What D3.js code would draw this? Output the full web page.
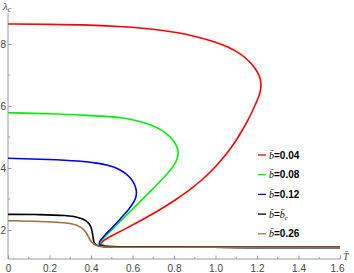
<!DOCTYPE html>
<html><head><meta charset="utf-8">
<script src="https://cdn.jsdelivr.net/npm/d3@7/dist/d3.min.js"></script>
<style>body{margin:0;background:#fff}svg{display:block}</style>
</head><body>
<svg id="chart" width="354" height="273"></svg>
<script>
// ---- data ----
const xTicks = [0, 0.2, 0.4, 0.6, 0.8, 1.0, 1.2, 1.4, 1.6];
const xTickLabels = ["0", "0.2", "0.4", "0.6", "0.8", "1.0", "1.2", "1.4", "1.6"];
const xMinorTicks = [0.1, 0.3, 0.5, 0.7, 0.9, 1.1, 1.3, 1.5];
const yTicks = [2, 4, 6, 8];
const yTickLabels = ["2", "4", "6", "8"];
const yMinorTicks = [3, 5, 7];

const legendLabels = ["0.04", "0.08", "0.12", "c", "0.26"];
const seriesColors = ["#ff0000", "#00f000", "#0000ff", "#000000", "#a0703f"];

const tRed   = [0, 0.2024, 0.3952, 0.5542, 0.7166, 0.8289, 0.9253, 0.9976, 1.0602, 1.1181, 1.1566, 1.1855, 1.2048, 1.2169, 1.2202, 1.2169, 1.2082, 1.1952, 1.1807, 1.1566, 1.1301, 1.1012, 1.0675, 1.0289, 0.9855, 0.9349, 0.8747, 0.8072, 0.7301, 0.6458, 0.5542, 0.4964, 0.4627, 0.4506, 0.4506, 0.4627, 0.4916, 0.5880, 0.9253, 1.6];
const lamRed = [8.645, 8.635, 8.613, 8.565, 8.474, 8.361, 8.210, 8.071, 7.910, 7.694, 7.484, 7.274, 7.065, 6.871, 6.677, 6.484, 6.290, 6.097, 5.871, 5.548, 5.226, 4.903, 4.581, 4.258, 3.935, 3.613, 3.290, 2.968, 2.645, 2.323, 2.000, 1.806, 1.677, 1.597, 1.532, 1.490, 1.465, 1.452, 1.442, 1.439];

const tGreen   = [0, 0.2024, 0.3952, 0.4916, 0.5639, 0.6265, 0.6843, 0.7277, 0.7614, 0.7880, 0.8072, 0.8183, 0.8207, 0.8183, 0.8096, 0.7928, 0.7663, 0.7325, 0.6988, 0.6602, 0.6202, 0.5783, 0.5398, 0.5060, 0.4747, 0.4554, 0.4458, 0.4467, 0.4578, 0.4916, 0.5880, 0.9253, 1.6];
const lamGreen = [5.784, 5.758, 5.694, 5.661, 5.613, 5.523, 5.403, 5.274, 5.129, 4.968, 4.790, 4.613, 4.484, 4.355, 4.194, 4.016, 3.806, 3.565, 3.329, 3.071, 2.806, 2.526, 2.268, 2.042, 1.839, 1.703, 1.603, 1.532, 1.487, 1.461, 1.452, 1.442, 1.439];

const tBlue   = [0, 0.2024, 0.3470, 0.4337, 0.4916, 0.5349, 0.5687, 0.5928, 0.6096, 0.6183, 0.6198, 0.6159, 0.6024, 0.5831, 0.5566, 0.5253, 0.4940, 0.4651, 0.4458, 0.4386, 0.4414, 0.4554, 0.4916, 0.5880, 0.9253, 1.6];
const lamBlue = [4.313, 4.277, 4.226, 4.161, 4.081, 3.968, 3.823, 3.661, 3.484, 3.306, 3.177, 3.032, 2.855, 2.677, 2.468, 2.242, 2.023, 1.823, 1.677, 1.581, 1.516, 1.477, 1.458, 1.448, 1.442, 1.439];

const tBlack   = [0, 0.154, 0.283, 0.347, 0.376, 0.393, 0.402, 0.407, 0.410, 0.414, 0.419, 0.436, 0.467, 0.588, 0.925, 1.6];
const lamBlack = [2.506, 2.500, 2.474, 2.403, 2.306, 2.194, 2.065, 1.903, 1.742, 1.613, 1.532, 1.484, 1.458, 1.448, 1.442, 1.439];

const tBrown   = [0, 0.154, 0.283, 0.323, 0.347, 0.366, 0.379, 0.388, 0.395, 0.407, 0.419, 0.439, 0.458, 0.588, 0.925, 1.6];
const lamBrown = [2.300, 2.281, 2.235, 2.177, 2.106, 2.016, 1.894, 1.774, 1.677, 1.581, 1.516, 1.474, 1.452, 1.445, 1.442, 1.439];

const seriesT = [tRed, tGreen, tBlue, tBlack, tBrown];
const seriesLam = [lamRed, lamGreen, lamBlue, lamBlack, lamBrown];

// ---- drawing ----
const svg = d3.select("#chart");
const x = d3.scaleLinear().domain([0, 1.6]).range([8, 340]);
const y = d3.scaleLinear().domain([1.065, 9.0]).range([259, 13]);
const axisColor = "#9a9a9a";
const labelColor = "#444";

// x axis
const gx = svg.append("g").attr("transform", `translate(0,${y(1.065)})`);
gx.call(d3.axisBottom(x).tickValues(xTicks).tickSize(0).tickFormat((d,i)=>xTickLabels[i]));
gx.select(".domain").attr("stroke", axisColor).attr("d", `M${x(0)},0H${x(1.6)}`);
gx.selectAll(".tick text").attr("fill", labelColor).attr("font-family", "Liberation Sans, Arial, sans-serif").attr("font-size", 10).attr("dy", "0.95em");
gx.selectAll(".tick").filter(d => d === 1.6).select("text").attr("dx", -3);
gx.selectAll(".tick").append("line").attr("y1", 0).attr("y2", -3.5).attr("stroke", axisColor);
gx.selectAll(".minor").data(xMinorTicks).enter().append("line")
  .attr("x1", d => x(d)).attr("x2", d => x(d)).attr("y1", 0).attr("y2", -2).attr("stroke", axisColor);

// y axis
const gy = svg.append("g").attr("transform", `translate(${x(0)},0)`);
gy.call(d3.axisLeft(y).tickValues(yTicks).tickSize(0).tickFormat((d,i)=>yTickLabels[i]));
gy.select(".domain").attr("stroke", axisColor).attr("d", `M0,${y(1.065)}V${y(9.0)}`);
gy.selectAll(".tick text").attr("fill", labelColor).attr("font-family", "Liberation Sans, Arial, sans-serif").attr("font-size", 10).attr("x", -2);
gy.selectAll(".tick").append("line").attr("x1", 0).attr("x2", 3.5).attr("stroke", axisColor);
gy.selectAll(".minor").data(yMinorTicks).enter().append("line")
  .attr("y1", d => y(d)).attr("y2", d => y(d)).attr("x1", 0).attr("x2", 2).attr("stroke", axisColor);

// axis labels
const lamLabel = svg.append("text").attr("x", 3).attr("y", 10).attr("fill", labelColor)
  .attr("font-family", "Liberation Serif, Times New Roman, serif").attr("font-size", 11);
lamLabel.append("tspan").attr("font-style", "italic").text("λ");
lamLabel.append("tspan").attr("font-style", "italic").attr("font-size", 8).attr("dy", 2).text("c");

svg.append("text").attr("x", 343).attr("y", 260).attr("fill", labelColor)
  .attr("font-family", "Liberation Serif, Times New Roman, serif").attr("font-size", 10)
  .attr("font-style", "italic").text("T\u0304");

// curves
const line = d3.line().x(d => x(d[0])).y(d => y(d[1])).curve(d3.curveBasis);
seriesT.forEach((ts, i) => {
  const pts = ts.map((t, j) => [t, seriesLam[i][j]]);
  svg.append("path").datum(pts).attr("d", line).attr("fill", "none")
    .attr("stroke", seriesColors[i]).attr("stroke-width", 1.6).attr("stroke-linejoin", "round");
});

// legend
const legY0 = 155, legStep = 19.7;
legendLabels.forEach((lab, i) => {
  const yy = legY0 + i * legStep;
  svg.append("line").attr("x1", 258).attr("x2", 266).attr("y1", yy).attr("y2", yy)
    .attr("stroke", seriesColors[i]).attr("stroke-width", 1.3);
  const t = svg.append("text").attr("x", 269).attr("y", yy + 3.5).attr("fill", "#000")
    .attr("font-size", 10);
  t.append("tspan").attr("font-family", "Liberation Serif, Times New Roman, serif").attr("font-style", "italic").text("b\u0304");
  if (lab === "c") {
    t.append("tspan").attr("font-family", "Liberation Sans, Arial, sans-serif").text("=");
    t.append("tspan").attr("font-family", "Liberation Serif, Times New Roman, serif").attr("font-style", "italic").text("b\u0304");
    t.append("tspan").attr("font-family", "Liberation Serif, Times New Roman, serif").attr("font-style", "italic").attr("font-size", 7).attr("dy", 2).text("c");
  } else {
    t.append("tspan").attr("font-family", "Liberation Sans, Arial, sans-serif").attr("font-weight", "bold").text("=" + lab);
  }
});
</script>
</body></html>
